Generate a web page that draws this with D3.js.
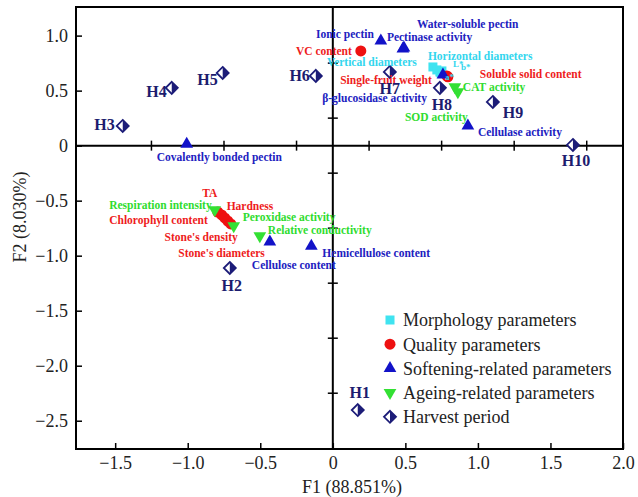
<!DOCTYPE html>
<html><head><meta charset="utf-8">
<script src="https://cdn.jsdelivr.net/npm/d3@7"></script>
<style>body{margin:0;background:#fff}svg{display:block}</style>
</head><body>
<svg id="c" width="638" height="497"></svg>
<script>
// ---- data ----
const xTicks = [-1.5, -1.0, -0.5, 0, 0.5, 1.0, 1.5, 2.0];
const yTicks = [1.0, 0.5, 0, -0.5, -1.0, -1.5, -2.0, -2.5];
const innerXTicks = [-1.25, -0.75, -0.25, 0.25, 0.75, 1.25, 1.75];
const innerYTicks = [0.75, 0.25, -0.25, -0.75, -1.25, -1.75, -2.25];

const morphology = [
  {name: "Horizontal diameters", x: 0.690, y: 0.715},
  {name: "Vertical diameters",   x: 0.717, y: 0.688},
  {name: "L*",                   x: 0.738, y: 0.670},
  {name: "a*",                   x: 0.745, y: 0.661},
  {name: "b*",                   x: 0.752, y: 0.679}
];
const quality = [
  {name: "VC content",            x: 0.193, y: 0.861},
  {name: "Soluble solid content", x: 0.793, y: 0.625},
  {name: "Single-fruit weight",   x: 0.786, y: 0.634},
  {name: "TA",                    x: -0.793, y: -0.603},
  {name: "Hardness",              x: -0.766, y: -0.630},
  {name: "Chlorophyll content",   x: -0.745, y: -0.657},
  {name: "Stone's density",       x: -0.724, y: -0.685},
  {name: "Stone's diameters",     x: -0.703, y: -0.712}
];
const softening = [
  {name: "Ionic pectin",             x: 0.331, y: 0.952},
  {name: "Pectinase activity",       x: 0.483, y: 0.879},
  {name: "Water-soluble pectin",     x: 0.490, y: 0.888},
  {name: "β-glucosidase activity",   x: 0.759, y: 0.643},
  {name: "Cellulase activity",       x: 0.931, y: 0.179},
  {name: "Covalently bonded pectin", x: -1.007, y: 0.015},
  {name: "Cellulose content",        x: -0.434, y: -0.875},
  {name: "Hemicellulose content",    x: -0.148, y: -0.912}
];
const ageing = [
  {name: "Respiration intensity", x: -0.814, y: -0.585},
  {name: "Peroxidase activity",   x: -0.683, y: -0.730},
  {name: "Relative conductivity", x: -0.503, y: -0.821},
  {name: "CAT activity",          x: 0.841, y: 0.534},
  {name: "SOD activity",          x: 0.862, y: 0.488}
];
const harvest = [
  {name: "H1", x: 0.172, y: -2.403},
  {name: "H2", x: -0.710, y: -1.112},
  {name: "H3", x: -1.448, y: 0.179},
  {name: "H4", x: -1.110, y: 0.525},
  {name: "H5", x: -0.759, y: 0.661},
  {name: "H6", x: -0.117, y: 0.634},
  {name: "H7", x: 0.393, y: 0.670},
  {name: "H8", x: 0.738, y: 0.525},
  {name: "H9", x: 1.103, y: 0.397},
  {name: "H10", x: 1.655, y: 0.006}
];
const legendLabels = ["Morphology parameters", "Quality parameters", "Softening-related parameters", "Ageing-related parameters", "Harvest period"];
const xTitle = "F1 (88.851%)";
const yTitle = "F2 (8.030%)";

// ---- label placement (pixel offsets from the mark: dx, dy, anchor) ----
const labelOffsets = {
  "Horizontal diameters": [-5, -11, "start"],
  "Vertical diameters": [-20, -8, "end"],
  "L*": [13, -8, "start"],
  "a*": [4, 4, "start"],
  "b*": [19, -4, "start"],
  "VC content": [-9, 0, "end"],
  "Soluble solid content": [32, -3, "start"],
  "Single-fruit weight": [-15, 4, "end"],
  "TA": [-8, -19, "middle"],
  "Hardness": [5, -9, "start"],
  "Chlorophyll content": [-17, 2, "end"],
  "Stone's density": [10, 16, "end"],
  "Stone's diameters": [34, 29, "end"],
  "Ionic pectin": [-7, -7, "end"],
  "Pectinase activity": [-16, -12, "start"],
  "Water-soluble pectin": [13, -24, "start"],
  "β-glucosidase activity": [-16, 23, "end"],
  "Cellulase activity": [10, 6, "start"],
  "Covalently bonded pectin": [-30, 13, "start"],
  "Cellulose content": [-18, 23, "start"],
  "Hemicellulose content": [11, 7, "start"],
  "Respiration intensity": [-3, -5, "end"],
  "Peroxidase activity": [9, -9, "start"],
  "Relative conductivity": [8, -6, "start"],
  "CAT activity": [8, 0, "start"],
  "SOD activity": [10, 25, "end"],
  "H1": [2, -18, "middle"],
  "H2": [2, 17, "middle"],
  "H3": [-8, -2, "end"],
  "H4": [-5, 4, "end"],
  "H5": [-5, 6, "end"],
  "H6": [-6, 0, "end"],
  "H7": [0, 16, "middle"],
  "H8": [2, 17, "middle"],
  "H9": [10, 10, "start"],
  "H10": [3, 15, "middle"]
};

// ---- styles ----
const C = {cyan: "#3fe3f0", red: "#ee1111", blue: "#1212c8", green: "#33e033", navy: "#1c1c78",
           cyanT: "#33d6ee", redT: "#ee1c1c", blueT: "#2121c0", greenT: "#2fdc2f", navyT: "#1c1c6e"};
const serif = "'Liberation Serif','Times New Roman',serif";

const svg = d3.select("#c");
const L = 76, R = 623, T = 7, B = 449;
const x = d3.scaleLinear().domain([-1.77, 2.0]).range([L, R]);
const y = d3.scaleLinear().domain([-2.757, 1.26]).range([B, T]);

svg.append("rect").attr("width", 638).attr("height", 497).attr("fill", "#fff");

// zero lines
svg.append("line").attr("x1", L).attr("x2", R).attr("y1", y(0)).attr("y2", y(0)).attr("stroke", "#000").attr("stroke-width", 2);
svg.append("line").attr("x1", x(0)).attr("x2", x(0)).attr("y1", T).attr("y2", B).attr("stroke", "#000").attr("stroke-width", 2);
svg.selectAll(".ixt").data(innerXTicks).join("line")
  .attr("x1", d => x(d)).attr("x2", d => x(d)).attr("y1", y(0) - 5).attr("y2", y(0) + 5)
  .attr("stroke", "#000").attr("stroke-width", 1.5);
svg.selectAll(".iyt").data(innerYTicks).join("line")
  .attr("y1", d => y(d)).attr("y2", d => y(d)).attr("x1", x(0) - 5).attr("x2", x(0) + 5)
  .attr("stroke", "#000").attr("stroke-width", 1.5);

// axes
const fmt = v => v === 0 ? "0" : d3.format(".1f")(v);
const gx = svg.append("g").attr("transform", `translate(0,${B})`)
  .call(d3.axisBottom(x).tickValues(xTicks).tickFormat(fmt).tickSizeInner(-6).tickSizeOuter(0).tickPadding(7));
const gy = svg.append("g").attr("transform", `translate(${L},0)`)
  .call(d3.axisLeft(y).tickValues(yTicks).tickFormat(fmt).tickSizeInner(-6).tickSizeOuter(0).tickPadding(8));
[gx, gy].forEach(g => {
  g.select(".domain").remove();
  g.selectAll("line").attr("stroke-width", 1.5);
  g.selectAll("text").attr("font-family", serif).attr("font-size", 18).attr("fill", "#222");
});

// frame
svg.append("rect").attr("x", L).attr("y", T).attr("width", R - L).attr("height", B - T)
  .attr("fill", "none").attr("stroke", "#000").attr("stroke-width", 2);

// titles
svg.append("text").attr("x", 352).attr("y", 493).attr("text-anchor", "middle")
  .attr("font-family", serif).attr("font-size", 18).attr("fill", "#222").text(xTitle);
svg.append("text").attr("transform", "translate(26,217) rotate(-90)").attr("text-anchor", "middle")
  .attr("font-family", serif).attr("font-size", 18).attr("fill", "#222").text(yTitle);

// symbols
const tri = d3.symbol().type(d3.symbolTriangle).size(70);
function diamond(g, s) {
  g.append("path").attr("d", `M0,${-s}L${s},0L0,${s}L${-s},0Z`).attr("fill", "#fff").attr("stroke", C.navy).attr("stroke-width", 1.8);
  g.append("path").attr("d", `M0,${-s}L${s},0L0,${s}Z`).attr("fill", C.navy);
}
function drawSymbol(g, kind) {
  if (kind === "m") g.append("rect").attr("x", -4.5).attr("y", -4.5).attr("width", 9).attr("height", 9).attr("fill", C.cyan);
  else if (kind === "q") g.append("circle").attr("r", 5.5).attr("fill", C.red);
  else if (kind === "s") g.append("path").attr("d", tri()).attr("fill", C.blue);
  else if (kind === "a") g.append("path").attr("d", tri()).attr("transform", "rotate(180)").attr("fill", C.green);
  else diamond(g, 6);
}

const groups = [
  {data: morphology, kind: "m", tc: C.cyanT},
  {data: quality, kind: "q", tc: C.redT},
  {data: softening, kind: "s", tc: C.blueT},
  {data: ageing, kind: "a", tc: C.greenT},
  {data: harvest, kind: "h", tc: C.navyT}
];

// marks
const marks = svg.append("g");
groups.forEach(gr => {
  gr.data.forEach(d => {
    const g = marks.append("g").attr("transform", `translate(${x(d.x)},${y(d.y)})`);
    drawSymbol(g, gr.kind);
  });
});
// labels
const labs = svg.append("g");
groups.forEach(gr => {
  gr.data.forEach(d => {
    const o = labelOffsets[d.name] || [6, 0, "start"];
    const isH = gr.kind === "h";
    const small = ["L*", "a*", "b*"].includes(d.name);
    labs.append("text").attr("x", x(d.x) + o[0]).attr("y", y(d.y) + o[1])
      .attr("dy", "0.35em").attr("text-anchor", o[2])
      .attr("font-family", serif).attr("font-weight", "bold")
      .attr("font-size", isH ? 16 : (small ? 9 : 11.5))
      .attr("fill", gr.tc).text(d.name);
  });
});

// legend
const lg = svg.append("g");
const legendKinds = ["m", "q", "s", "a", "h"];
legendLabels.forEach((t, i) => {
  const yy = 320 + i * 24.2;
  const g = lg.append("g").attr("transform", `translate(390,${yy})`);
  drawSymbol(g, legendKinds[i]);
  lg.append("text").attr("x", 403).attr("y", yy).attr("dy", "0.35em")
    .attr("font-family", serif).attr("font-size", 18).attr("fill", "#222").text(t);
});
</script>
</body></html>
